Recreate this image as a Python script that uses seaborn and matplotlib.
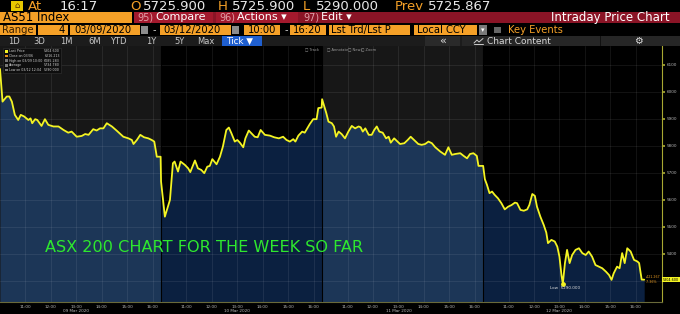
import numpy as np
import pandas as pd
import matplotlib
matplotlib.use("Agg")
import matplotlib.pyplot as plt
import matplotlib.transforms as mtransforms
from matplotlib.patches import Rectangle
from matplotlib.lines import Line2D
import seaborn as sns

# ---------------- data ----------------
days = ["09 Mar 2020", "10 Mar 2020", "11 Mar 2020", "12 Mar 2020"]
hour_labels = ["11:00", "12:00", "13:00", "14:00", "15:00", "16:00"]
hour_minutes = [60, 120, 180, 240, 300, 360]          # minutes after 10:00 open
price_ticks = [5300, 5400, 5500, 5600, 5700, 5800, 5900, 6000, 6100]

d1_min = [0, 6, 16, 22, 28, 35, 43, 49, 57, 67, 72, 76, 83, 88, 98, 106, 114, 126, 138, 150,
          161, 169, 181, 193, 201, 209, 220, 228, 236, 244, 252, 264, 275, 291, 303, 311, 315,
          323, 331, 340, 350, 358, 364, 370, 379]
d1_val = [6085, 5964, 5983, 5983, 5964, 5915, 5896, 5915, 5909, 5896, 5902, 5884, 5899, 5896,
          5874, 5899, 5878, 5872, 5872, 5859, 5849, 5853, 5834, 5837, 5844, 5841, 5862, 5857,
          5865, 5865, 5884, 5872, 5857, 5834, 5828, 5822, 5807, 5822, 5841, 5832, 5828, 5822,
          5816, 5760, 5760]

d2_min = [0, 9, 21, 28, 32, 40, 46, 56, 64, 69, 80, 87, 95, 102, 109, 115, 121, 131, 139, 146,
          154, 160, 166, 174, 180, 186, 194, 199, 207, 213, 221, 228, 235, 245, 257, 267, 278,
          288, 296, 304, 312, 317, 324, 333, 339, 351, 359, 367, 371, 379]
d2_val = [5668, 5538, 5600, 5736, 5742, 5705, 5742, 5730, 5717, 5703, 5746, 5717, 5711, 5699,
          5723, 5726, 5751, 5732, 5760, 5798, 5859, 5868, 5847, 5816, 5822, 5812, 5795, 5828,
          5857, 5847, 5834, 5832, 5859, 5841, 5838, 5832, 5828, 5834, 5822, 5816, 5825, 5816,
          5838, 5853, 5849, 5881, 5899, 5899, 5940, 5942]

d3_min = [0, 10, 15, 23, 28, 33, 39, 46, 54, 62, 70, 78, 86, 91, 96, 102, 110, 117, 123, 129,
          135, 143, 151, 157, 162, 170, 178, 184, 194, 202, 209, 217, 227, 235, 243, 251, 259,
          267, 279, 290, 298, 306, 314, 326, 334, 342, 349, 357, 365, 369, 379]
d3_val = [5973, 5921, 5890, 5884, 5872, 5834, 5853, 5844, 5828, 5853, 5874, 5865, 5872, 5869,
          5853, 5865, 5841, 5841, 5859, 5872, 5853, 5849, 5828, 5834, 5812, 5828, 5816, 5807,
          5810, 5822, 5834, 5822, 5807, 5804, 5807, 5816, 5810, 5795, 5779, 5767, 5795, 5767,
          5770, 5773, 5763, 5754, 5770, 5773, 5763, 5726, 5726]

d4_min = [0, 4, 9, 15, 21, 27, 35, 43, 51, 59, 67, 75, 80, 88, 96, 104, 109, 116, 122, 127,
          135, 143, 149, 153, 161, 169, 175, 180, 185, 188, 193, 198, 204, 210, 218, 226, 234,
          242, 249, 257, 265, 273, 281, 290, 297, 303, 308, 316, 322, 328, 334, 340, 348, 356,
          364, 368, 374, 380]
d4_val = [5726, 5677, 5656, 5625, 5631, 5619, 5606, 5588, 5565, 5575, 5581, 5590, 5588, 5563,
          5560, 5565, 5581, 5622, 5615, 5575, 5538, 5507, 5479, 5440, 5452, 5446, 5427, 5390,
          5319, 5290, 5366, 5415, 5366, 5396, 5415, 5421, 5403, 5396, 5409, 5390, 5359, 5353,
          5347, 5334, 5322, 5304, 5328, 5353, 5347, 5403, 5366, 5421, 5409, 5378, 5372, 5366,
          5305, 5304.6]

legend_rows = [("Last Price", "5304.600"), ("Close on 03/06", "6216.213"),
               ("High on 03/09 10:00", "6085.283"), ("Average", "5734.780"),
               ("Low on 03/12 12:04", "5290.000")]
last_price, prev_close, low_price = 5304.6, 5725.867, 5290.0

# ---------------- frame ----------------
SESSION = 380  # minutes 10:00 - 16:20
frames = []
for d, (m, v) in enumerate([(d1_min, d1_val), (d2_min, d2_val), (d3_min, d3_val), (d4_min, d4_val)]):
    frames.append(pd.DataFrame({"day": d, "minute": m, "price": v}))
df = pd.concat(frames, ignore_index=True)
df["x"] = df["day"] * SESSION + df["minute"]

sns.set_theme(style="dark")
plt.rcParams['font.family'] = ['DejaVu Sans']

W, H = 680, 314
fig = plt.figure(figsize=(6.8, 3.14), dpi=100, facecolor='black')


def fx(x): return x / W
def fy(y): return 1 - y / H


def rect(x0, y0, x1, y1, c, ec='none', lw=0, z=1):
    fig.patches.append(Rectangle((fx(x0), fy(y1)), (x1 - x0) / W, (y1 - y0) / H,
                                 transform=fig.transFigure, facecolor=c, edgecolor=ec,
                                 lw=lw, zorder=z))


def txt(x, y, s, c='white', size=7, ha='left', va='center', **kw):
    fig.text(fx(x), fy(y), s, color=c, fontsize=size, ha=ha, va=va, **kw)


ORANGE = '#f5a027'
# ---- header row 1
rect(0, 0, 680, 12, 'black')
rect(11, 1, 23, 11, '#e8c800')
txt(17, 6, "\u2302", c='#5a3000', size=6, ha='center')
txt(28, 6, "At", c=ORANGE, size=9.5)
txt(60, 6, "16:17", c='#e8e8e8', size=9.5)
txt(130, 6, "O", c=ORANGE, size=9.5)
txt(143, 6, "5725.900", c='#e8e8e8', size=9.5)
txt(218, 6, "H", c=ORANGE, size=9.5)
txt(232, 6, "5725.900", c='#e8e8e8', size=9.5)
txt(303, 6, "L", c=ORANGE, size=9.5)
txt(316, 6, "5290.000", c='#e8e8e8', size=9.5)
txt(395, 6, "Prev", c=ORANGE, size=9.5)
txt(428, 6, "5725.867", c='#e8e8e8', size=9.5)
# ---- header row 2
rect(0, 12, 132, 23, ORANGE)
txt(3, 17.5, "AS51 Index", c='black', size=8.5)
rect(134, 12, 680, 23, '#8a1426')
rect(134, 12, 213, 23, '#a3192d')
txt(137, 17.5, "95)", c='#e0a0a8', size=7)
txt(155, 17.5, "Compare", c='white', size=8)
rect(216, 12, 298, 23, '#a3192d')
txt(219, 17.5, "96)", c='#e0a0a8', size=7)
txt(237, 17.5, "Actions \u25be", c='white', size=8)
txt(303, 17.5, "97)", c='#e0a0a8', size=7)
txt(321, 17.5, "Edit \u25be", c='white', size=8)
txt(670, 17.5, "Intraday Price Chart", c='white', size=8.5, ha='right')
# ---- header row 3
rect(0, 25, 36, 35, ORANGE)
txt(2, 30, "Range", c='#3a2000', size=7.2)
rect(38, 25, 68, 35, ORANGE)
txt(65, 30, "4", c='black', size=7.2, ha='right')
rect(70, 25, 140, 35, ORANGE)
txt(74, 30, "03/09/2020", c='black', size=7.2)
rect(141, 26, 148, 34, '#8c8c8c')
txt(153, 30, "-", c='#cccccc', size=7)
rect(160, 25, 231, 35, ORANGE)
txt(163, 30, "03/12/2020", c='black', size=7.2)
rect(232, 26, 239, 34, '#8c8c8c')
rect(244, 25, 280, 35, ORANGE)
txt(248, 30, "10:00", c='black', size=7.2)
txt(285, 30, "-", c='#cccccc', size=7)
rect(290, 25, 326, 35, ORANGE)
txt(293, 30, "16:20", c='black', size=7.2)
rect(329, 25, 410, 35, ORANGE)
txt(331, 30, "Lst Trd/Lst P", c='black', size=7.2)
rect(414, 25, 477, 35, ORANGE)
txt(417, 30, "Local CCY", c='black', size=7.2)
rect(479, 25, 487, 35, '#7a7a7a')
txt(483, 30, "\u25be", c='white', size=5, ha='center')
rect(494, 27, 501, 33, '#666666')
txt(508, 30, "Key Events", c=ORANGE, size=7.2)
# ---- header row 4
rect(0, 36, 680, 46, '#1c1c1c')
for xx, lab in zip([8, 33, 60, 88, 110, 146, 174, 197],
                   ["1D", "3D", "1M", "6M", "YTD", "1Y", "5Y", "Max"]):
    txt(xx, 41, lab, c='#c8c8c8', size=6)
rect(222, 36, 262, 46, '#1f5fd0')
txt(226, 41, "Tick \u25bc", c='white', size=6.3)
rect(425, 36, 460, 46, '#2a2a2a')
txt(443, 41, "\u00ab", c='#dddddd', size=8, ha='center')
rect(462, 36, 680, 46, '#262626')
# little chart icon
fig.lines.append(Line2D([fx(474), fx(477), fx(479), fx(483)], [fy(43), fy(40), fy(42), fy(38.5)],
                        transform=fig.transFigure, color='#cccccc', lw=0.7))
fig.lines.append(Line2D([fx(474), fx(483)], [fy(44), fy(44)],
                        transform=fig.transFigure, color='#cccccc', lw=0.7))
txt(487, 41, "Chart Content", c='#d8d8d8', size=6.5)
rect(600, 36, 601, 46, '#111111')
txt(638, 41, "\u2699", c='#e0e0e0', size=7, ha='center')

# ---------------- chart axes ----------------
ylo, yhi = 5222, 6170
xmax = 4 * SESSION + 42
ax = fig.add_axes([0, (H - 302) / H, 662 / W, (302 - 46) / H])
ax.set_facecolor('black')
ax.set_xlim(0, xmax)
ax.set_ylim(ylo, yhi)

panel_bg = ['#171717', '#000000', '#171717', '#000000']
panel_fill = ['#1c3657', '#0b2040', '#1c3657', '#0b2040']
for d in range(4):
    ax.axvspan(d * SESSION, (d + 1) * SESSION, color=panel_bg[d], zorder=0, lw=0)
    sub = df[df["day"] == d]
    if d < 3:
        sub = pd.concat([sub, df[df["day"] == d + 1].iloc[:1]])
    ax.fill_between(sub["x"], sub["price"], ylo, color=panel_fill[d], lw=0, zorder=1)

sns.lineplot(data=df, x="x", y="price", estimator=None, sort=False, color='#f4f423',
             lw=1.3, ax=ax, zorder=4)

# grid
xt = [d * SESSION + m for d in range(4) for m in hour_minutes]
ax.set_xticks(xt)
ax.set_xticklabels(hour_labels * 4)
ax.set_yticks(price_ticks)
ax.set_yticklabels(["" if p == 5300 else str(p) for p in price_ticks])
ax.grid(True, color='white', alpha=0.09, lw=0.6, zorder=2)
ax.set_axisbelow(False)
for d in range(1, 4):
    ax.axvline(d * SESSION, color='black', lw=0.8, zorder=3)

ax.yaxis.tick_right()
ax.tick_params(axis='y', colors='#b8b8b8', labelsize=3, length=2, pad=1.5, color='#a8a832')
ax.tick_params(axis='x', colors='#b8b8b8', labelsize=3, length=1.5, pad=0.8, color='#8c8c3c')
for s in ['top', 'left']:
    ax.spines[s].set_visible(False)
ax.spines['right'].set_color('#a8a832')
ax.spines['right'].set_linewidth(0.8)
ax.spines['bottom'].set_color('#6a6a3a')
ax.spines['bottom'].set_linewidth(0.8)
ax.set_xlabel("")
ax.set_ylabel("")

trans = mtransforms.blended_transform_factory(ax.transData, ax.transAxes)
for d, lab in enumerate(days):
    ax.text(d * SESSION + 180, -0.028, lab, transform=trans, color='#b8b8b8', fontsize=3,
            ha='center', va='top')

# low marker
lowrow = df.loc[df["price"].idxmin()]
ax.scatter([lowrow["x"]], [lowrow["price"]], s=6, color='#f4f423', zorder=5)
ax.annotate(f"Low  {low_price:.3f}", (lowrow["x"], lowrow["price"]), xytext=(2, -2),
            textcoords='offset pixels', color='#dddddd', fontsize=3, ha='center', va='top',
            zorder=6)

# last price box and change
lastrow = df.iloc[-1]
ax.annotate(f"{last_price - prev_close:.3f}\n{(last_price / prev_close - 1) * 100:.2f}%",
            (lastrow["x"], last_price), xytext=(2, 0), textcoords='offset pixels',
            color='#e89a20', fontsize=2.3, ha='left', va='center', zorder=6, linespacing=1.3)
fig_last = mtransforms.blended_transform_factory(fig.transFigure, ax.transData)
ax.text(679 / W, last_price, f"{last_price:.3f}", transform=fig_last, color='black',
        fontsize=2.4, ha='right', va='center', zorder=7, clip_on=False,
        bbox=dict(boxstyle='square,pad=0.2', fc='#f4f423', ec='none'))

# legend box (top-left)
rect(3, 48, 61, 73, '#0e0e0e', ec='#333333', lw=0.4, z=5)
for i, (lab, val) in enumerate(legend_rows):
    yy = 51.5 + i * 4.6
    mk = '#f4f423' if i == 0 else ('#e8901a' if i == 1 else '#777777')
    rect(5, yy - 1.3, 7.6, yy + 1.3, mk, z=6)
    fig.text(fx(9), fy(yy), lab, color='#cfcfcf', fontsize=2.3, va='center', zorder=7)
    fig.text(fx(60), fy(yy), val, color='#cfcfcf', fontsize=2.3, va='center', ha='right',
             zorder=7)

# small toolbar
for xx, lab in zip([305, 327, 348, 361], ["Track", "Annotate", "News", "Zoom"]):
    fig.text(fx(xx), fy(49.5), "\u25a1 " + lab, color='#9a9a9a', fontsize=2.6, va='center')

# overlay caption
txt(45, 247, "ASX 200 CHART FOR THE WEEK SO FAR", c='#2ee82e', size=11.6, zorder=10)

fig.savefig("out.png", dpi=100, facecolor='black')
